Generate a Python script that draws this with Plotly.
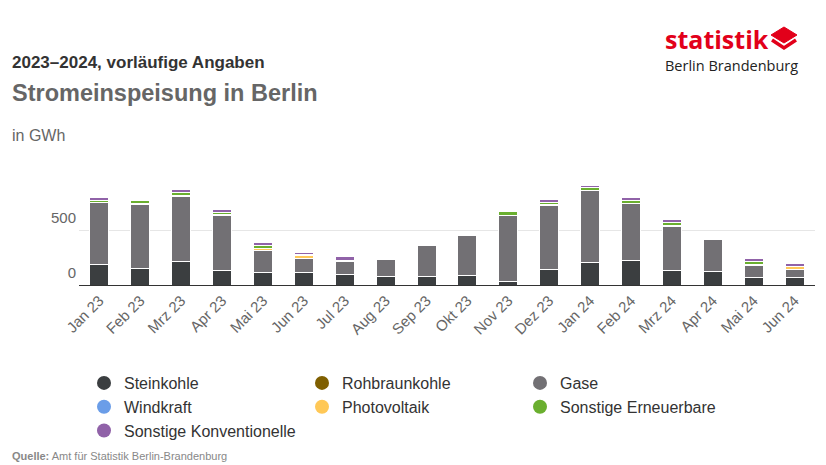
import plotly.graph_objects as go

months = ["Jan 23", "Feb 23", "Mrz 23", "Apr 23", "Mai 23", "Jun 23", "Jul 23", "Aug 23", "Sep 23",
          "Okt 23", "Nov 23", "Dez 23", "Jan 24", "Feb 24", "Mrz 24", "Apr 24", "Mai 24", "Jun 24"]
steinkohle = [188, 152, 212, 130, 118, 118, 97, 79, 79, 88, 36, 142, 203, 227, 133, 121, 70, 64]
rohbraunkohle = [0] * 18
gase = [560, 584, 597, 503, 197, 125, 115, 154, 276, 360, 597, 585, 654, 512, 400, 297, 103, 78]
windkraft = [0] * 18
photovoltaik = [3, 3, 5, 5, 20, 22, 8, 0, 0, 0, 3, 3, 3, 3, 5, 0, 12, 22]
sonst_erneuerbare = [15, 25, 25, 25, 20, 8, 5, 0, 0, 0, 30, 20, 22, 22, 30, 0, 25, 5]
sonst_konventionelle = [25, 5, 25, 25, 35, 18, 30, 0, 0, 0, 0, 25, 27, 30, 30, 0, 35, 22]

series = [
    ("Steinkohle", steinkohle, "#3b3e40"),
    ("Rohbraunkohle", rohbraunkohle, "#7f5f00"),
    ("Gase", gase, "#727074"),
    ("Windkraft", windkraft, "#6a9de8"),
    ("Photovoltaik", photovoltaik, "#ffc857"),
    ("Sonstige Erneuerbare", sonst_erneuerbare, "#6aaf2f"),
    ("Sonstige Konventionelle", sonst_konventionelle, "#9062a8"),
]
legend_labels = ["Steinkohle", "Rohbraunkohle", "Gase", "Windkraft", "Photovoltaik",
                 "Sonstige Erneuerbare", "Sonstige Konventionelle"]

W, H = 826, 465
L, R, T, B = 79, 11, 175, 180
PW, PH = W - L - R, H - T - B


def px(x):
    return (x - L) / PW


def py(y):
    return (H - B - y) / PH


FONT = "Liberation Sans, Arial, sans-serif"
fig = go.Figure()
for name, vals, col in series:
    fig.add_trace(go.Bar(x=months, y=vals, name=name, marker=dict(color=col, line=dict(color="white", width=1)),
                         showlegend=False))
for (name, vals, col), lab in zip(series, legend_labels):
    fig.add_trace(go.Scatter(x=[None], y=[None], mode="markers", name=lab,
                             marker=dict(color=col, size=14, symbol="circle")))

fig.update_layout(
    width=W, height=H, barmode="stack", bargap=0.535,
    margin=dict(l=L, r=R, t=T, b=B, autoexpand=False),
    plot_bgcolor="white", paper_bgcolor="white",
    font=dict(family=FONT, color="#666666"),
    xaxis=dict(tickangle=-45, tickfont=dict(size=15, color="#666666"), showgrid=False,
               showline=True, linecolor="#333333", linewidth=1, ticks=""),
    yaxis=dict(range=[0, 1000], tickvals=[0, 500, 1000], ticktext=["0", "500", ""],
               showgrid=True, gridcolor="#e6e6e6", gridwidth=1, zeroline=False,
               tickfont=dict(size=15, color="#666666"), ticklabelshift=-12, ticklabelstandoff=2),
    legend=dict(orientation="h", x=px(84), y=py(366), xanchor="left", yanchor="top",
                entrywidth=173, font=dict(size=16, color="#333333"), traceorder="normal",
                itemclick=False),
    showlegend=True,
)

anns = [
    dict(text="<b>2023–2024, vorläufige Angaben</b>", x=px(10), y=py(62), size=17, color="#333333"),
    dict(text="<b>Stromeinspeisung in Berlin</b>", x=px(10), y=py(93), size=23.5, color="#666666"),
    dict(text="in GWh", x=px(10), y=py(135), size=16, color="#666666"),
    dict(text="<b>Quelle:</b> Amt für Statistik Berlin-Brandenburg", x=px(10), y=py(456), size=11, color="#888888"),
]
for a in anns:
    fig.add_annotation(text=a["text"], x=a["x"], y=a["y"], xref="paper", yref="paper",
                       xanchor="left", yanchor="middle", showarrow=False,
                       font=dict(size=a["size"], color=a["color"], family=FONT))

# logo
fig.add_annotation(text="<b>statistik</b>", x=px(663), y=py(39), xref="paper", yref="paper",
                   xanchor="left", yanchor="middle", showarrow=False,
                   font=dict(size=25, color="#e2001a", family="Open Sans, sans-serif"))
fig.add_annotation(text="Berlin Brandenburg", x=px(663), y=py(65), xref="paper", yref="paper",
                   xanchor="left", yanchor="middle", showarrow=False,
                   font=dict(size=14.5, color="#222222", family="Open Sans, sans-serif"))


def path(pts, close=True):
    s = "M " + " L ".join(f"{px(a):.5f},{py(b):.5f}" for a, b in pts)
    return s + (" Z" if close else "")


fig.add_shape(type="path", xref="paper", yref="paper",
              path=path([(784, 27), (797, 35), (784, 43), (771, 35)]),
              fillcolor="#e2001a", line=dict(color="#e2001a", width=1))
fig.add_shape(type="path", xref="paper", yref="paper",
              path=path([(772, 40), (784, 48), (796, 40)], close=False),
              line=dict(color="#e2001a", width=3.5))

fig.write_html("out.html", config={"displayModeBar": False},
               post_script="document.body.style.margin='0';")
